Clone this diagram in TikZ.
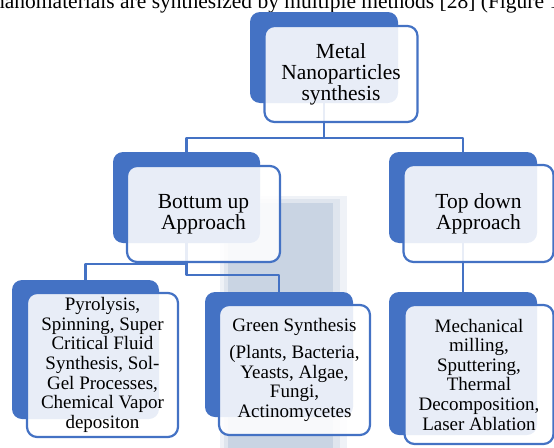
\documentclass[tikz,border=0pt]{standalone}
\usepackage{fontspec}
\setmainfont{Liberation Serif}
\definecolor{smartblue}{HTML}{4472C4}
\definecolor{shadeblue}{HTML}{C9D4E3}
\tikzset{
	darkbox/.style={fill=smartblue, rounded corners=10pt, inner sep=0pt},
	frontbox/.style={draw=smartblue, line width=2.2pt, fill=white, fill opacity=0.88, text opacity=1, rounded corners=10pt, inner sep=0pt, align=center},
	conn/.style={draw=smartblue, line width=2.4pt},
	bigtext/.style={font=\fontsize{21.5}{21}\selectfont},
	smalltext/.style={font=\fontsize{19}{19.6}\selectfont},
}
\begin{document}
\begin{tikzpicture}[x=1pt, y=-1pt, line join=round]
				%Page frame.
				\useasboundingbox (0,0) rectangle (554,447);
				\clip (0,0) rectangle (554,447);
				%Text line above.
				\node[bigtext, anchor=base west, inner sep=0pt] (cap) at (-6,9) {nanomaterials are synthesized by multiple methods [28] (Figure 1};
				%Shadow strip.
				\fill[shadeblue!30] (220,196) rectangle (347,450);
				\fill[shadeblue!60] (224,199) rectangle (340,450);
				\fill[shadeblue] (228,203) rectangle (333,450);
				%Dark boxes.
				\node[darkbox, minimum width=148pt, minimum height=91pt] (topD) at (324,57.5) {};
				\node[darkbox, minimum width=147pt, minimum height=91pt] (buD) at (186.5,197.5) {};
				\node[darkbox, minimum width=148pt, minimum height=91pt] (tdD) at (463,197.5) {};
				\node[darkbox, minimum width=147pt, minimum height=139pt] (pyD) at (85.5,349.5) {};
				\node[darkbox, minimum width=148pt, minimum height=125pt] (gsD) at (279,354.5) {};
				\node[darkbox, minimum width=148pt, minimum height=143pt] (mmD) at (463,363.5) {};
				%Connectors.
				\draw[conn] (topD.south) -- ++(0,35) -| (buD.north);
				\draw[conn] (topD.south) -- ++(0,35) -| (tdD.north);
				\draw[conn] (buD.south) -- ++(0,21) -| (pyD.north);
				\draw[conn] (buD.south) -- ++(0,32) -| (gsD.north);
				\draw[conn] (tdD.south) -- (mmD.north);
				%Front boxes.
				\node[frontbox, bigtext, minimum width=153pt, minimum height=96pt] (topF) at ([shift={(17,16.5)}]topD.center) {Metal\\Nanoparticles\\synthesis};
				\node[frontbox, bigtext, minimum width=153pt, minimum height=96pt] (buF) at ([shift={(17,16.5)}]buD.center) {Bottum up\\Approach};
				\node[frontbox, bigtext, minimum width=150pt, minimum height=97pt] (tdF) at ([shift={(15.5,16)}]tdD.center) {Top down\\Approach};
				\node[frontbox, smalltext, minimum width=151pt, minimum height=144pt] (pyF) at ([shift={(17,15.5)}]pyD.center) {Pyrolysis,\\Spinning, Super\\Critical Fluid\\Synthesis, Sol-\\Gel Processes,\\Chemical Vapor\\depositon};
				\node[frontbox, smalltext, minimum width=151pt, minimum height=130pt] (gsF) at ([shift={(15.5,15.5)}]gsD.center) {Green Synthesis\\[7pt](Plants, Bacteria,\\Yeasts, Algae,\\Fungi,\\Actinomycetes};
				\node[frontbox, smalltext, minimum width=149pt, minimum height=139pt] (mmF) at ([shift={(16,11)}]mmD.center) {Mechanical\\milling,\\Sputtering,\\Thermal\\Decomposition,\\Laser Ablation};
\end{tikzpicture}
\end{document}
